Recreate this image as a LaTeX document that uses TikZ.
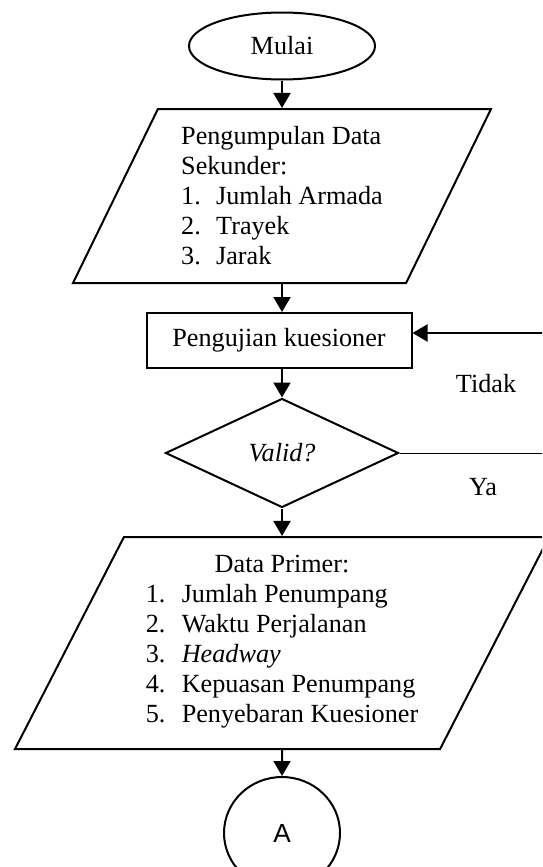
\documentclass[tikz,border=0pt]{standalone}
\usepackage{fontspec}
\setmainfont{Liberation Serif}
\newfontfamily\arialfont{Liberation Sans}
\usetikzlibrary{shapes,arrows.meta,positioning}

\begin{document}
\begin{tikzpicture}[node distance=75pt, auto, font=\fontsize{13.1}{15}\selectfont]
    % Definisi gaya
    \tikzstyle{terminal} = [ellipse, draw, line width=1pt, minimum width=93pt, minimum height=33.5pt, inner sep=0pt]
    \tikzstyle{data} = [trapezium, draw, line width=1pt, trapezium stretches body, inner sep=0pt]
    \tikzstyle{proses} = [rectangle, draw, line width=1pt, minimum width=132.5pt, minimum height=27.5pt]
    \tikzstyle{keputusan} = [diamond, draw, line width=1pt, minimum width=116.5pt, minimum height=54.5pt, aspect=2.1, inner sep=0pt]
    \tikzstyle{line} = [draw, line width=1pt, -{Triangle[width=8.5pt,length=7.5pt]}]
    \tikzstyle{garis} = [draw, line width=0.5pt]

    % Batas gambar
    \clip (0,0) rectangle (271pt,-433.5pt);

    % Simpul
    \node [terminal] (mulai) at (141pt,-23pt) {Mulai};
    \node [data, trapezium left angle=58.5, trapezium right angle=121.5, minimum width=209pt, minimum height=87pt, align=left, below of=mulai, node distance=75pt] (sekunder) {Pengumpulan Data\\Sekunder:\\\makebox[17.5pt][l]{1.}Jumlah Armada\\\makebox[17.5pt][l]{2.}Trayek\\\makebox[17.5pt][l]{3.}Jarak};
    \node [proses, below of=sekunder, node distance=72.25pt, xshift=-1.5pt] (uji) {Pengujian kuesioner};
    \node [keputusan, below of=sekunder, node distance=128.5pt] (valid) {\textit{Valid?}};
    \node [data, trapezium left angle=58.3, trapezium right angle=121.7, minimum width=267pt, minimum height=106pt, align=center, below of=valid, node distance=95pt] (primer) {Data Primer:\\\begin{tabular}[t]{@{}l@{}}\makebox[18pt][l]{1.}Jumlah Penumpang\\\makebox[18pt][l]{2.}Waktu Perjalanan\\\makebox[18pt][l]{3.}\textit{Headway}\\\makebox[18pt][l]{4.}Kepuasan Penumpang\\\makebox[18pt][l]{5.}Penyebaran Kuesioner\end{tabular}};
    \node [terminal, minimum width=58pt, minimum height=56pt, below of=primer, node distance=95pt] (a) {\arialfont A};
    \coordinate [right=80pt of valid.east] (balik);

    % Label
    \node (tidak) at (243pt,-192pt) {Tidak};
    \node (ya) at (241.5pt,-243.5pt) {Ya};

    % Koneksi
    \path [line] (mulai) -- (sekunder);
    \path [line] (sekunder) -- (sekunder |- uji.north);
    \path [line] (uji.south -| valid) -- (valid);
    \path [line] (valid) -- (primer);
    \path [line] (primer) -- (a);
    \path [garis] (valid.east) -- (balik);
    \path [line] (balik) |- ([yshift=3.75pt]uji.east);
\end{tikzpicture}
\end{document}
